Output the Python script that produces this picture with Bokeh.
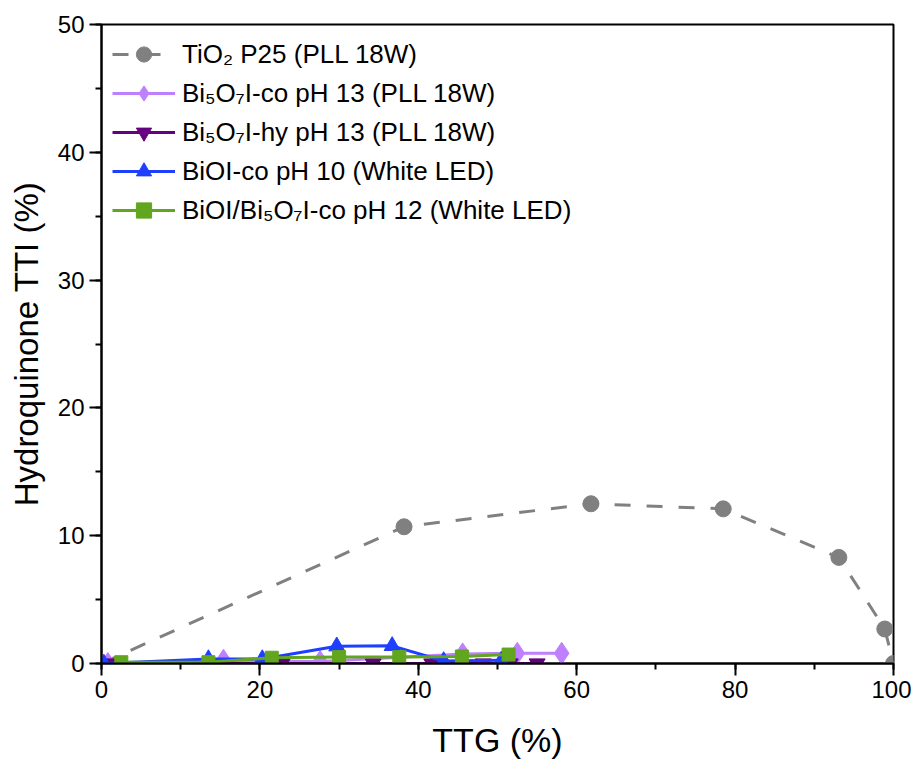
from bokeh.plotting import figure
from bokeh.models import Legend, LegendItem, SingleIntervalTicker, Range1d
from bokeh.embed import file_html
from bokeh.resources import INLINE

# ---- data ----
tio2_x = [0, 38.2, 61.8, 78.5, 93.1, 98.9, 100]
tio2_y = [0, 10.7, 12.5, 12.1, 8.3, 2.7, 0]

bico_x = [0.8, 15.4, 27.6, 45.6, 52.5, 58.1]
bico_y = [0.0, 0.25, 0.15, 0.75, 0.8, 0.8]

bihy_x = [1.2, 22.8, 34.3, 41.7, 48.2, 51.6, 55.0]
bihy_y = [0, 0, 0, 0, 0, 0, 0]

bioi_x = [0.3, 13.5, 20.3, 29.7, 36.7, 43.2, 50.5]
bioi_y = [0.0, 0.35, 0.35, 1.35, 1.38, 0.2, 0.25]

mix_x = [2.5, 13.5, 21.5, 30.0, 37.6, 45.5, 51.4]
mix_y = [0.1, 0.1, 0.45, 0.5, 0.5, 0.55, 0.7]

labels = [
    "TiO\u2082 P25 (PLL 18W)",
    "Bi\u2085O\u2087I-co pH 13 (PLL 18W)",
    "Bi\u2085O\u2087I-hy pH 13 (PLL 18W)",
    "BiOI-co pH 10 (White LED)",
    "BiOI/Bi\u2085O\u2087I-co pH 12 (White LED)",
]

x_ticks_interval = 20
y_ticks_interval = 10

FONT = "Liberation Sans"

p = figure(
    frame_width=792, frame_height=639,
    x_range=Range1d(0, 100), y_range=Range1d(0, 50),
    output_backend="svg", toolbar_location=None,
    min_border_left=101, min_border_right=18, min_border_top=24, min_border_bottom=95,
)
p.grid.visible = False
p.outline_line_color = "black"
p.outline_line_width = 2
p.background_fill_color = "white"

p.xaxis.ticker = SingleIntervalTicker(interval=x_ticks_interval, num_minor_ticks=2)
p.yaxis.ticker = SingleIntervalTicker(interval=y_ticks_interval, num_minor_ticks=2)
p.xaxis.axis_label = "TTG (%)"
p.yaxis.axis_label = "Hydroquinone TTI (%)"
for ax in (p.xaxis[0], p.yaxis[0]):
    ax.axis_line_width = 2
    ax.major_tick_line_width = 2
    ax.minor_tick_line_width = 2
    ax.major_tick_out = 12
    ax.major_tick_in = 0
    ax.minor_tick_out = 6
    ax.minor_tick_in = 0
    ax.major_label_text_font = FONT
    ax.major_label_text_font_size = "24px"
    ax.major_label_text_color = "black"
    ax.axis_label_text_font = FONT
    ax.axis_label_text_font_style = "normal"
    ax.axis_label_text_color = "black"
    ax.major_label_standoff = 5
p.xaxis.axis_label_text_font_size = "34px"
p.yaxis.axis_label_text_font_size = "33px"
p.xaxis.axis_label_standoff = 20
p.yaxis.axis_label_standoff = 10

series = [
    (tio2_x, tio2_y, "#808080", "circle", 16, "16 16"),
    (bico_x, bico_y, "#BF80FF", "diamond", 22, "solid"),
    (bihy_x, bihy_y, "#660080", "inverted_triangle", 16, "solid"),
    (bioi_x, bioi_y, "#1F3FFF", "triangle", 16, "solid"),
    (mix_x, mix_y, "#62A51E", "square", 13, "solid"),
]

items = []
for (xs, ys, col, mk, sz, dash), lab in zip(series, labels):
    rl = p.line(xs, ys, line_color=col, line_width=3, line_dash=dash)
    rs = p.scatter(xs, ys, marker=mk, size=sz, fill_color=col, line_color=col)
    items.append(LegendItem(label=lab, renderers=[rl, rs]))

legend = Legend(
    items=items, location="top_left",
    label_text_font=FONT, label_text_font_size="26px", label_text_color="black",
    glyph_width=63, glyph_height=38, spacing=1, label_standoff=7,
    margin=11, padding=0,
    border_line_color=None, background_fill_alpha=0,
)
p.add_layout(legend, "center")

open("out.html", "w").write(file_html(p, INLINE))
